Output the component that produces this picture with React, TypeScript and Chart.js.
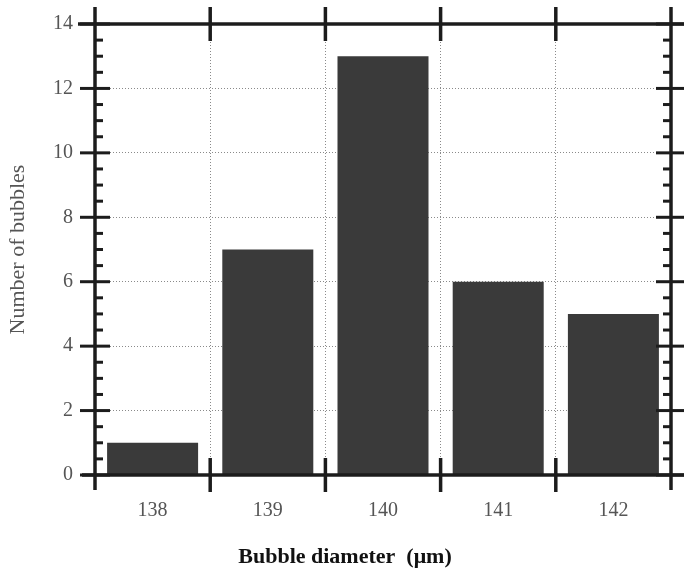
import React, { useEffect, useRef } from "react";
import { Chart, registerables } from "chart.js";

Chart.register(...registerables);

const categories = ["138", "139", "140", "141", "142"];
const bubbleCounts = [1, 7, 13, 6, 5];
const yMin = 0;
const yMax = 14;
const yMajorStep = 2;
const yMinorStep = 0.5;
const xTitle = "Bubble diameter  (\u03bcm)";
const yTitle = "Number of bubbles";

const W = 684;
const H = 569;
const FONT = "'Liberation Serif', 'Times New Roman', serif";

const framePlugin = {
  id: "framePlugin",
  afterDraw(chart: any) {
    const ctx = chart.ctx as CanvasRenderingContext2D;
    const { left, right, top, bottom } = chart.chartArea;
    const xs = chart.scales.x;
    const ys = chart.scales.y;
    ctx.save();
    ctx.strokeStyle = "#1c1c1c";
    ctx.lineCap = "butt";
    const line = (x1: number, y1: number, x2: number, y2: number, w: number) => {
      ctx.lineWidth = w;
      ctx.beginPath();
      ctx.moveTo(x1, y1);
      ctx.lineTo(x2, y2);
      ctx.stroke();
    };
    // axes frame
    line(left, top - 17, left, bottom + 15, 3.5);
    line(right, top - 17, right, bottom + 15, 3.5);
    line(left - 17, top, chart.width, top, 3.5);
    line(left - 13, bottom, chart.width, bottom, 3.5);
    // y ticks
    for (let v = yMin; v <= yMax + 1e-9; v += yMinorStep) {
      const y = ys.getPixelForValue(v);
      const major = Math.abs(v / yMajorStep - Math.round(v / yMajorStep)) < 1e-9;
      if (major) {
        line(left - 15, y, left + 15, y, 3);
        line(right - 15, y, chart.width, y, 3);
      } else {
        line(left, y, left + 8, y, 3);
        line(right - 8, y, right, y, 3);
      }
    }
    // category boundary ticks
    for (let i = 0; i < categories.length - 1; i++) {
      const x = (xs.getPixelForValue(i) + xs.getPixelForValue(i + 1)) / 2;
      line(x, top - 17, x, top + 17, 3.5);
      line(x, bottom - 17, x, bottom + 17, 3.5);
    }
    // titles
    ctx.fillStyle = "#555";
    ctx.font = `22px ${FONT}`;
    ctx.textAlign = "center";
    ctx.textBaseline = "middle";
    ctx.save();
    ctx.translate(18, (top + bottom) / 2);
    ctx.rotate(-Math.PI / 2);
    ctx.fillText(yTitle, 0, 0);
    ctx.restore();
    ctx.fillStyle = "#111";
    ctx.font = `bold 22px ${FONT}`;
    ctx.fillText(xTitle, 345, 557);
    ctx.restore();
  },
};

export default function App() {
  const ref = useRef<HTMLCanvasElement | null>(null);
  useEffect(() => {
    if (!ref.current) return;
    const chart = new Chart(ref.current, {
      type: "bar",
      data: {
        labels: categories,
        datasets: [
          {
            data: bubbleCounts,
            backgroundColor: "#3a3a3a",
            borderWidth: 0,
            barPercentage: 0.79,
            categoryPercentage: 1,
          },
        ],
      },
      options: {
        responsive: false,
        animation: false,
        layout: { padding: { top: 24, right: 13, left: 0, bottom: 0 } },
        plugins: { legend: { display: false }, tooltip: { enabled: false } },
        scales: {
          x: {
            grid: { color: "#8a8a8a", lineWidth: 1, drawTicks: false, offset: true },
            border: { display: false, dash: [1, 2] },
            ticks: { color: "#555", font: { family: FONT, size: 20 }, padding: 24 },
            afterFit(scale: any) {
              scale.height = 94;
              scale.paddingLeft = 0;
              scale.paddingRight = 0;
            },
          },
          y: {
            min: yMin,
            max: yMax,
            grid: { color: "#8a8a8a", lineWidth: 1, drawTicks: false },
            border: { display: false, dash: [1, 2] },
            ticks: { stepSize: yMajorStep, color: "#555", font: { family: FONT, size: 20 }, padding: 22 },
            afterFit(scale: any) {
              scale.width = 95;
              scale.paddingTop = 0;
              scale.paddingBottom = 0;
            },
          },
        },
      },
      plugins: [framePlugin],
    });
    return () => chart.destroy();
  }, []);
  return (
    <div style={{ position: "absolute", left: 0, top: 0, width: W, height: H, background: "#fff" }}>
      <canvas ref={ref} width={W} height={H} />
    </div>
  );
}
